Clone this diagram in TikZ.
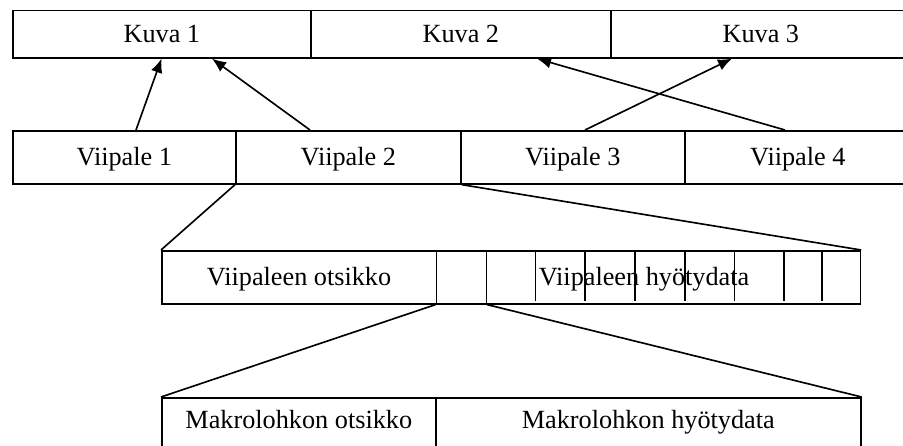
\documentclass[tikz,border=0pt]{standalone}
\usepackage{fontspec}
\setmainfont{Liberation Serif}
\usetikzlibrary{calc,positioning,arrows.meta}

\begin{document}
\begin{tikzpicture}[x=0.03cm,y=-0.03cm,line width=1.4pt,
	every node/.style={font=\fontsize{22.4}{26}\selectfont,text height=18pt,text depth=4pt},
	lohko/.style={draw,rectangle,inner sep=0pt,anchor=north west,minimum width=#1*0.03cm},
	nuoli/.style={-{Latex[length=12pt,width=10pt]}}]
	\def \kh {47.5}
	\def \vh {53}
	\def \mh {60}
	
	\useasboundingbox (0,0) rectangle (903,445);
	
	%kuvat
	\node[lohko=298,minimum height=\kh*0.03cm] (k1) at (12,9.5) {Kuva 1};
	\node[lohko=300,minimum height=\kh*0.03cm] (k2) at (310,9.5) {Kuva 2};
	\node[lohko=300,minimum height=\kh*0.03cm] (k3) at (610,9.5) {Kuva 3};
	
	%viipaleet
	\node[lohko=223,minimum height=\vh*0.03cm] (v1) at (12,130) {Viipale 1};
	\node[lohko=225,minimum height=\vh*0.03cm] (v2) at (235,130) {Viipale 2};
	\node[lohko=224,minimum height=\vh*0.03cm] (v3) at (460,130) {Viipale 3};
	\node[lohko=226,minimum height=\vh*0.03cm] (v4) at (684,130) {Viipale 4};
	
	%viipaleen rakenne
	\node[lohko=274.5,minimum height=\vh*0.03cm] (vo) at (161,250) {Viipaleen otsikko};
	\node[lohko=50,minimum height=\vh*0.03cm] (mb) at (435.5,250) {};
	\node[lohko=374,minimum height=\vh*0.03cm,
		label={[xshift=-25pt]center:Viipaleen hyötydata}] (vd) at (485.5,250) {};
	\foreach \d in {50,99.5,149.5,199.5,249,298.5,336.5}
		\draw ($(vd.north west)+(\d,2)$) -- ($(vd.south west)+(\d,-4)$);
	
	%makrolohko
	\node[lohko=274,minimum height=\mh*0.03cm,text depth=16pt] (mo) at (161,397) {Makrolohkon otsikko};
	\node[lohko=425,minimum height=\mh*0.03cm,text depth=16pt] (md) at (435,397) {Makrolohkon hyötydata};
	
	%viittaukset
	\draw[nuoli] ($(v1.north west)+(124,0)$) -- ($(k1.south west)+(149.5,0)$);
	\draw[nuoli] ($(v2.north west)+(75,0)$) -- ($(k1.south west)+(200,0)$);
	\draw[nuoli] ($(v3.north west)+(125,0)$) -- ($(k3.south west)+(122,0)$);
	\draw[nuoli] ($(v4.north west)+(101,0)$) -- ($(k2.south west)+(227,0)$);
	
	%suurennokset
	\draw (v2.south west) -- (vo.north west);
	\draw (v2.south east) -- (vd.north east);
	\draw (mb.south west) -- (mo.north west);
	\draw (mb.south east) -- (md.north east);
\end{tikzpicture}
\end{document}
